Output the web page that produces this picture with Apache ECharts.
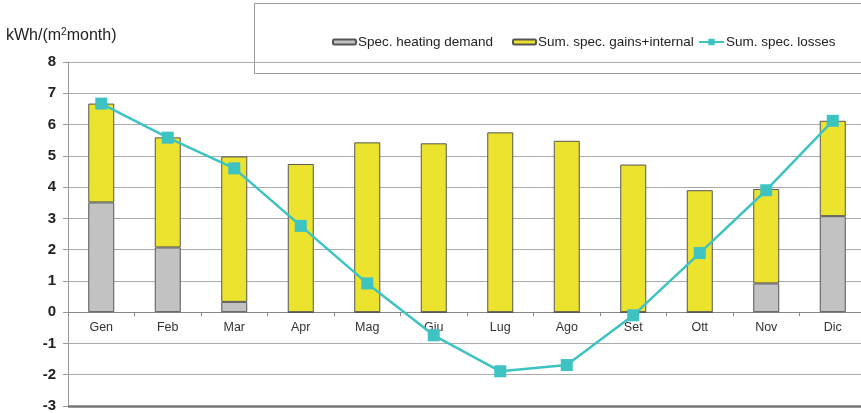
<!DOCTYPE html>
<html>
<head>
<meta charset="utf-8">
<style>
  html, body { margin: 0; padding: 0; background: #fff; }
  #chart { width: 861px; height: 413px; }
</style>
<script src="https://cdn.jsdelivr.net/npm/echarts@6/dist/echarts.min.js"></script>
</head>
<body>
<div id="chart"></div>
<script>
// Monthly energy balance (kWh per m² per month)
const months = ['Gen', 'Feb', 'Mar', 'Apr', 'Mag', 'Giu', 'Lug', 'Ago', 'Set', 'Ott', 'Nov', 'Dic'];
const heatingDemand = [3.51, 2.07, 0.33, 0, 0, 0, 0, 0, 0, 0, 0.92, 3.07];
const gainsInternal = [3.16, 3.52, 4.65, 4.74, 5.43, 5.40, 5.75, 5.48, 4.72, 3.90, 3.02, 3.05];
const losses = [6.67, 5.58, 4.60, 2.76, 0.92, -0.74, -1.89, -1.69, -0.10, 1.89, 3.90, 6.12];
const yTicks = { min: -3, max: 8, step: 1 };

const names = ['Spec. heating demand', 'Sum. spec. gains+internal', 'Sum. spec. losses'];
const FONT = '"Liberation Sans", Arial, sans-serif';
const lineColor = '#3ec3c3';

const GRID_TOP = 62;
const GRID_HEIGHT = 344;
// lift the category axis from the plot bottom up to the zero line
const zeroOffset = -GRID_HEIGHT * (0 - yTicks.min) / (yTicks.max - yTicks.min);

const chart = echarts.init(document.getElementById('chart'), null, { renderer: 'canvas' });

function legendFor(name, left) {
  return {
    data: [name],
    left: left,
    top: 30,
    itemWidth: 23,
    itemHeight: 5,
    itemGap: 0,
    textStyle: { fontFamily: FONT, fontSize: 13.5, color: '#222', padding: [0, 0, 0, -3] },
    selectedMode: false
  };
}

chart.setOption({
  animation: false,
  backgroundColor: '#fff',
  textStyle: { fontFamily: FONT },
  grid: { left: 68, top: GRID_TOP, width: 798, height: GRID_HEIGHT, containLabel: false, outerBoundsMode: 'none' },
  graphic: [
    {
      type: 'rect',
      shape: { x: 254.5, y: 3.5, width: 640, height: 70 },
      style: { fill: '#fff', stroke: '#9a9a9a', lineWidth: 1 },
      z: -1
    },
    {
      type: 'text',
      left: 6,
      top: 27,
      style: {
        text: 'kWh/(m{s|2}month)',
        rich: { s: { fontSize: 10, verticalAlign: 'top', padding: [0, 0, 8, 0], fontFamily: FONT, fill: '#222' } },
        fontFamily: FONT,
        fontSize: 16,
        fill: '#222'
      }
    }
  ],
  legend: [
    legendFor(names[0], 327),
    legendFor(names[1], 507),
    Object.assign(legendFor(names[2], 693), { itemWidth: 25, itemHeight: 8 })
  ],
  xAxis: {
    type: 'category',
    data: months,
    position: 'bottom',
    offset: zeroOffset,
    axisLine: { onZero: false, lineStyle: { color: '#888', width: 1 } },
    axisTick: { show: true, alignWithLabel: false, length: 4, lineStyle: { color: '#888' } },
    axisLabel: { color: '#333', fontSize: 12.5, fontFamily: FONT, margin: 9 },
    splitLine: { show: false }
  },
  yAxis: {
    type: 'value',
    min: yTicks.min,
    max: yTicks.max,
    interval: yTicks.step,
    axisLine: { show: true, lineStyle: { color: '#999' } },
    axisTick: { show: true, length: 5, lineStyle: { color: '#999' } },
    axisLabel: { color: '#222', fontSize: 15, fontWeight: 'bold', fontFamily: FONT, margin: 12 },
    splitLine: { show: true, lineStyle: { color: '#aaa', width: 1 } }
  },
  series: [
    {
      name: names[0],
      type: 'bar',
      stack: 'balance',
      data: heatingDemand,
      barWidth: 26,
      itemStyle: { color: '#c2c2c2', borderColor: '#555', borderWidth: 1 },
      // heavier base line along the bottom of the plot
      markLine: {
        silent: true,
        symbol: 'none',
        label: { show: false },
        lineStyle: { color: '#777', width: 2.5, type: 'solid' },
        data: [{ yAxis: yTicks.min }]
      }
    },
    {
      name: names[1],
      type: 'bar',
      stack: 'balance',
      data: gainsInternal,
      barWidth: 26,
      itemStyle: { color: '#ece32e', borderColor: '#555', borderWidth: 1 }
    },
    {
      name: names[2],
      type: 'line',
      data: losses,
      symbol: 'rect',
      symbolSize: 12,
      lineStyle: { color: lineColor, width: 2.5 },
      itemStyle: { color: lineColor },
      z: 5
    }
  ]
});
</script>
</body>
</html>
